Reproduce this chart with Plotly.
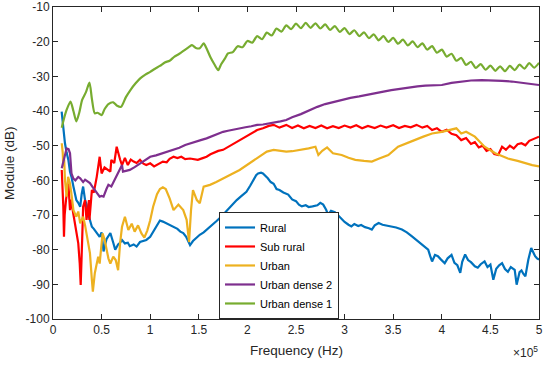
import plotly.graph_objects as go

# Frequency in units of 1e5 Hz, module in dB
rural = [(0.089,-40.2),(0.10,-43),(0.106,-45.5),(0.123,-49.3),(0.14,-52),(0.158,-54.1),(0.175,-57.5),(0.19,-59),(0.21,-61.8),(0.225,-64),
 (0.24,-65.7),(0.26,-66.5),(0.28,-67.6),(0.295,-64),(0.31,-61.8),(0.33,-65.7),(0.345,-67),(0.36,-69.5),(0.38,-71.5),(0.40,-73.4),
 (0.42,-74),(0.45,-75.3),(0.48,-76.3),(0.50,-75),(0.52,-80.5),(0.55,-77),(0.59,-75.2),(0.62,-78),(0.64,-80),(0.67,-78.5),
 (0.69,-78),(0.71,-77.2),(0.74,-78.2),(0.77,-78),(0.79,-79),(0.83,-78.5),(0.86,-79.1),(0.895,-77.8),(0.93,-77.5),(0.96,-77.2),
 (1.0,-76.3),(1.04,-74.5),(1.07,-73),(1.10,-71.6),(1.13,-71.9),(1.17,-72.4),(1.20,-72.8),(1.24,-73.4),(1.28,-74.0),(1.31,-74.8),
 (1.34,-75.2),(1.37,-76.3),(1.41,-78.7),(1.44,-77.5),(1.48,-76.3),(1.51,-75.7),(1.55,-75.0),(1.58,-74.3),(1.63,-73.0),(1.68,-71.8),
 (1.73,-70.5),(1.79,-68.6),(1.84,-67.2),(1.89,-65.7),(1.94,-64.5),(1.99,-63.3),(2.03,-61.5),(2.06,-60.0),(2.09,-58.5),(2.11,-58.0),
 (2.14,-57.8),(2.16,-58.0),(2.19,-58.8),(2.21,-59.4),(2.24,-60.5),(2.27,-61.0),(2.30,-62.5),(2.33,-62.8),(2.37,-63.5),(2.42,-64.1),
 (2.46,-65.5),(2.50,-66.0),(2.53,-67.0),(2.56,-67.5),(2.60,-67.2),(2.63,-67.7),(2.67,-67.5),(2.72,-67.2),(2.75,-66.5),(2.78,-67.0),
 (2.81,-68.5),(2.83,-69.9),(2.86,-68.8),(2.90,-69.2),(2.94,-70.3),(2.97,-71.3),(3.00,-72.0),(3.04,-72.8),(3.07,-73.3),(3.10,-72.6),
 (3.14,-73.2),(3.17,-72.9),(3.21,-73.5),(3.25,-73.8),(3.28,-74.2),(3.31,-73.0),(3.35,-72.3),(3.39,-72.8),(3.43,-73.0),(3.48,-73.3),
 (3.53,-73.6),(3.59,-74.2),(3.64,-75.0),(3.69,-76.1),(3.74,-77.2),(3.79,-78.5),(3.83,-79.2),(3.86,-80.0),(3.88,-81.8),(3.90,-83.4),
 (3.93,-81.5),(3.96,-81.9),(3.99,-82.8),(4.03,-83.9),(4.06,-82.5),(4.10,-81.5),(4.13,-83.8),(4.16,-84.5),(4.19,-86.7),(4.21,-83.5),
 (4.24,-81.4),(4.27,-83.0),(4.30,-83.6),(4.34,-84.8),(4.37,-85.2),(4.40,-84.2),(4.44,-83.4),(4.47,-85.0),(4.50,-84.3),(4.53,-88.7),
 (4.56,-85.5),(4.59,-84.5),(4.62,-83.9),(4.65,-85.6),(4.68,-86.4),(4.71,-85.0),(4.75,-85.8),(4.77,-90.1),(4.80,-86.5),(4.82,-86.0),
 (4.84,-87.0),(4.86,-87.7),(4.88,-84.5),(4.89,-82.9),(4.92,-79.5),(4.94,-81.0),(4.96,-81.9),(4.98,-82.5),(5.0,-82.9)]

sub_rural = [(0.09,-57.0),(0.10,-62.0),(0.106,-67.5),(0.113,-76.3),(0.12,-70.0),(0.134,-65.6),(0.145,-63.0),(0.158,-60.9),(0.175,-68.6),(0.19,-65.6),
 (0.205,-69.0),(0.226,-72.5),(0.24,-75.0),(0.26,-78.2),(0.275,-84.0),(0.285,-90.2),(0.30,-77.2),(0.31,-67.6),(0.33,-65.7),(0.345,-71.4),
 (0.36,-68.0),(0.37,-65.7),(0.375,-71.4),(0.40,-62.8),(0.42,-63.5),(0.45,-59.0),(0.48,-53.2),(0.50,-58.0),(0.53,-56.3),(0.56,-56.8),
 (0.59,-57.5),(0.60,-54.1),(0.63,-55.0),(0.655,-50.3),(0.67,-52.2),(0.69,-54.0),(0.71,-55.6),(0.74,-53.5),(0.77,-55.6),(0.80,-54.0),
 (0.83,-54.6),(0.86,-55.0),(0.895,-54.1),(0.93,-55.2),(0.96,-55.6),(1.00,-55.1),(1.04,-56.0),(1.07,-55.6),(1.10,-55.0),(1.13,-54.6),
 (1.17,-54.8),(1.20,-53.8),(1.24,-53.2),(1.28,-53.6),(1.32,-53.2),(1.36,-53.9),(1.41,-53.7),(1.45,-54.0),(1.49,-54.1),(1.54,-53.6),
 (1.58,-53.2),(1.62,-52.5),(1.66,-52.0),(1.70,-51.5),(1.75,-51.2),(1.80,-50.4),(1.85,-49.6),(1.92,-48.4),(1.97,-47.6),(2.03,-46.6),
 (2.10,-45.5),(2.16,-45.0),(2.22,-44.3),(2.27,-44.0),(2.33,-44.8),(2.40,-44.0),(2.46,-44.9),(2.52,-44.2),(2.58,-45.0),(2.64,-44.3),
 (2.70,-44.9),(2.76,-44.2),(2.82,-45.0),(2.88,-44.4),(2.94,-44.9),(3.00,-44.2),(3.06,-44.8),(3.12,-44.1),(3.18,-45.0),(3.24,-44.3),
 (3.31,-44.9),(3.37,-44.2),(3.43,-44.8),(3.50,-44.1),(3.56,-44.9),(3.62,-44.3),(3.68,-44.7),(3.74,-44.0),(3.80,-44.8),(3.85,-44.3),
 (3.90,-45.5),(3.95,-45.0),(4.00,-46.0),(4.05,-45.4),(4.10,-46.6),(4.15,-47.0),(4.20,-48.4),(4.25,-47.8),(4.30,-49.5),(4.34,-49.0),
 (4.38,-50.5),(4.42,-50.0),(4.46,-51.5),(4.50,-51.0),(4.54,-52.4),(4.58,-52.7),(4.62,-50.3),(4.66,-51.2),(4.70,-50.0),(4.74,-50.8),
 (4.78,-49.6),(4.82,-49.3),(4.86,-49.9),(4.90,-48.6),(4.95,-48.0),(5.00,-47.4)]

urban = [(0.09,-49.3),(0.10,-52),(0.106,-56),(0.115,-54),(0.123,-59.9),(0.14,-64.7),(0.155,-59),(0.175,-60.9),(0.19,-64),(0.21,-68.6),
 (0.24,-70.5),(0.26,-69),(0.28,-72.4),(0.31,-70.5),(0.33,-73),(0.345,-75.3),(0.365,-78),(0.38,-81),(0.40,-88.7),(0.41,-92.1),
 (0.43,-86.8),(0.45,-84),(0.465,-82),(0.48,-84),(0.50,-77.2),(0.51,-75.3),(0.53,-77),(0.55,-80.1),(0.57,-82.5),(0.59,-84),
 (0.62,-82),(0.645,-83),(0.67,-85.9),(0.69,-78.2),(0.71,-73.4),(0.74,-70.5),(0.775,-74.3),(0.81,-72.5),(0.84,-74.8),(0.875,-73),
 (0.91,-75.3),(0.94,-76.5),(0.97,-74.5),(1.0,-71.5),(1.03,-67.6),(1.07,-64.0),(1.10,-62.5),(1.13,-62.0),(1.16,-62.5),(1.20,-65.2),
 (1.24,-68.6),(1.29,-67),(1.34,-68.6),(1.375,-71.4),(1.40,-77.8),(1.42,-68.6),(1.44,-62.8),(1.48,-65.7),(1.51,-66.6),(1.55,-61.8),
 (1.615,-61.3),(1.68,-60.5),(1.75,-59.4),(1.83,-58.3),(1.92,-57),(2.0,-55.5),(2.10,-53.7),(2.2,-51.7),(2.27,-51.2),(2.34,-51.4),
 (2.40,-51.7),(2.46,-51.6),(2.55,-51.2),(2.63,-50.8),(2.70,-50.3),(2.73,-52.7),(2.77,-51.5),(2.82,-50.5),(2.88,-52.2),(2.97,-52.7),
 (3.04,-53.5),(3.11,-54.1),(3.20,-54.4),(3.28,-54.6),(3.35,-53.8),(3.45,-52.7),(3.55,-50.3),(3.63,-49.3),(3.72,-48.4),(3.81,-47.4),
 (3.90,-46.5),(4.0,-46),(4.07,-45.5),(4.15,-45.0),(4.20,-46.5),(4.25,-46),(4.34,-47.4),(4.44,-50.3),(4.55,-52.2),(4.68,-53.7),
 (4.78,-54.4),(4.86,-55.1),(4.93,-55.6),(5.0,-56)]

urban_dense_2 = [(0.09,-56.5),(0.12,-52.5),(0.14,-50.8),(0.16,-51.0),(0.175,-52.2),(0.19,-58.0),(0.21,-59.5),(0.23,-60.0),(0.26,-59.0),(0.28,-59.4),
 (0.31,-60.5),(0.33,-59.8),(0.36,-60.4),(0.38,-60.8),(0.41,-62.0),(0.43,-62.8),(0.46,-64.0),(0.48,-64.7),(0.50,-64.5),(0.52,-64.7),
 (0.55,-62.5),(0.57,-61.3),(0.60,-61.8),(0.63,-60.0),(0.67,-57.5),(0.71,-55.6),(0.72,-57.5),(0.75,-57.3),(0.79,-57.0),(0.84,-56.2),
 (0.895,-55.1),(0.95,-54.0),(1.00,-53.2),(1.06,-52.8),(1.12,-52.3),(1.18,-51.8),(1.24,-51.2),(1.30,-50.6),(1.36,-49.8),(1.41,-49.3),
 (1.46,-48.8),(1.52,-48.4),(1.58,-47.9),(1.64,-47.2),(1.70,-46.6),(1.75,-46.0),(1.80,-45.7),(1.86,-45.3),(1.92,-45.0),(1.98,-44.7),
 (2.04,-44.4),(2.10,-44.0),(2.16,-43.9),(2.22,-43.6),(2.28,-43.5),(2.34,-43.0),(2.40,-42.6),(2.46,-41.8),(2.55,-40.9),(2.63,-39.8),
 (2.72,-38.8),(2.80,-38.0),(2.88,-37.4),(2.97,-36.8),(3.06,-36.2),(3.15,-35.8),(3.23,-35.3),(3.31,-34.9),(3.40,-34.4),(3.48,-34.0),
 (3.57,-33.6),(3.66,-33.2),(3.75,-32.9),(3.83,-32.7),(3.92,-32.6),(4.00,-32.5),(4.10,-31.9),(4.20,-31.5),(4.30,-31.2),(4.41,-31.1),
 (4.52,-31.1),(4.62,-31.3),(4.72,-31.5),(4.82,-31.8),(4.91,-32.1),(5.00,-32.5)]

urban_dense_1 = [(0.09,-44.8),(0.11,-42.5),(0.14,-39.7),(0.18,-37.3),(0.21,-40.0),(0.24,-43.0),(0.27,-40.5),(0.30,-36.8),(0.34,-34.5),(0.375,-31.8),
 (0.40,-36.5),(0.43,-40.7),(0.46,-40.5),(0.50,-41.2),(0.53,-39.5),(0.57,-38.0),(0.62,-37.5),(0.66,-38.5),(0.70,-38.8),(0.75,-36.0),
 (0.80,-33.8),(0.85,-32.0),(0.90,-30.5),(0.95,-29.5),(1.00,-28.7),(1.05,-27.8),(1.10,-27.0),(1.15,-26.0),(1.20,-25.5),(1.25,-24.3),
 (1.30,-23.5),(1.35,-22.5),(1.40,-21.5),(1.43,-21.0),(1.47,-21.8),(1.51,-21.9),(1.55,-20.5),(1.58,-22.0),(1.62,-24.5),(1.66,-26.5),
 (1.70,-28.2),(1.73,-26.5),(1.77,-24.8),(1.80,-23.4),(1.85,-23.0),(1.90,-21.3),(1.95,-21.6),(2.00,-19.8),(2.05,-20.3),(2.10,-18.4),
 (2.15,-19.3),(2.20,-17.4),(2.25,-18.2),(2.30,-16.2),(2.35,-17.1),(2.40,-15.3),(2.45,-16.4),(2.50,-14.8),(2.55,-16.1),(2.60,-14.6),
 (2.65,-16.0),(2.70,-14.7),(2.75,-16.2),(2.80,-15.0),(2.85,-16.6),(2.90,-15.5),(2.95,-17.2),(3.00,-16.1),(3.05,-17.8),(3.10,-16.7),
 (3.15,-18.4),(3.20,-17.3),(3.25,-19.0),(3.30,-17.9),(3.35,-19.6),(3.40,-18.4),(3.45,-20.1),(3.50,-18.9),(3.55,-20.6),(3.60,-19.4),
 (3.65,-21.1),(3.70,-19.9),(3.75,-21.6),(3.80,-20.5),(3.85,-22.3),(3.90,-21.3),(3.95,-23.2),(4.00,-22.3),(4.05,-24.3),(4.10,-23.5),
 (4.15,-25.5),(4.20,-24.7),(4.25,-26.7),(4.30,-25.8),(4.35,-27.6),(4.40,-26.5),(4.45,-28.1),(4.50,-26.9),(4.55,-28.4),(4.60,-27.1),
 (4.65,-28.5),(4.70,-27.0),(4.75,-28.2),(4.80,-26.6),(4.85,-27.8),(4.90,-26.2),(4.95,-27.5),(5.00,-26.1)]

series_names = ["Rural", "Sub rural", "Urban", "Urban dense 2", "Urban dense 1"]
series_data = [rural, sub_rural, urban, urban_dense_2, urban_dense_1]
series_colors = ["#0072BD", "#FF0000", "#EDB120", "#7E2F8E", "#77AC30"]

x_tick_vals = [0, 0.5, 1, 1.5, 2, 2.5, 3, 3.5, 4, 4.5, 5]
x_tick_text = ["0", "0.5", "1", "1.5", "2", "2.5", "3", "3.5", "4", "4.5", "5"]
y_tick_vals = [-100, -90, -80, -70, -60, -50, -40, -30, -20, -10]
y_tick_text = ["-100", "-90", "-80", "-70", "-60", "-50", "-40", "-30", "-20", "-10"]

FONT = "Liberation Sans, Arial, sans-serif"
AX = "#262626"

fig = go.Figure()
for name, data, col in zip(series_names, series_data, series_colors):
    fig.add_trace(go.Scatter(
        x=[p[0] for p in data], y=[p[1] for p in data], name=name, mode="lines",
        line=dict(color=col, width=2.2, shape="spline" if name == "Urban dense 1" else "linear", smoothing=0.7),
    ))

axis_common = dict(showline=True, linecolor=AX, linewidth=1, mirror="ticks", ticks="inside",
                   ticklen=5, tickcolor=AX, tickwidth=1, showgrid=False, zeroline=False,
                   automargin=False, tickfont=dict(family=FONT, size=12, color=AX))

fig.update_layout(
    width=550, height=366,
    margin=dict(l=53, r=11, t=7, b=47, autoexpand=False),
    paper_bgcolor="white", plot_bgcolor="white",
    font=dict(family=FONT, size=12, color=AX),
    xaxis=dict(range=[0, 5], tickvals=x_tick_vals, ticktext=x_tick_text, **axis_common),
    yaxis=dict(range=[-100, -10], tickvals=y_tick_vals, ticktext=y_tick_text, **axis_common),
    showlegend=True,
    legend=dict(x=0.3416, y=0.343, xanchor="left", yanchor="top", bgcolor="white",
                bordercolor=AX, borderwidth=1, font=dict(family=FONT, size=11, color="#000000"),
                itemwidth=30, tracegroupgap=0),
    annotations=[
        dict(text="Frequency (Hz)", xref="paper", yref="paper", x=0.5, y=-0.1,
             xanchor="center", yanchor="middle", showarrow=False,
             font=dict(family=FONT, size=13.5, color=AX)),
        dict(text="Module (dB)", xref="paper", yref="paper", x=0, y=0.5, xshift=-44,
             xanchor="center", yanchor="middle", textangle=-90, showarrow=False,
             font=dict(family=FONT, size=13.5, color=AX)),
        dict(text="×10<sup>5</sup>", xref="paper", yref="paper", x=1, y=-0.106, xshift=1,
             xanchor="right", yanchor="middle", showarrow=False,
             font=dict(family=FONT, size=12, color=AX)),
    ],
)

fig.write_html("out.html", config={"displayModeBar": False},
               post_script="document.body.style.margin='0';")
